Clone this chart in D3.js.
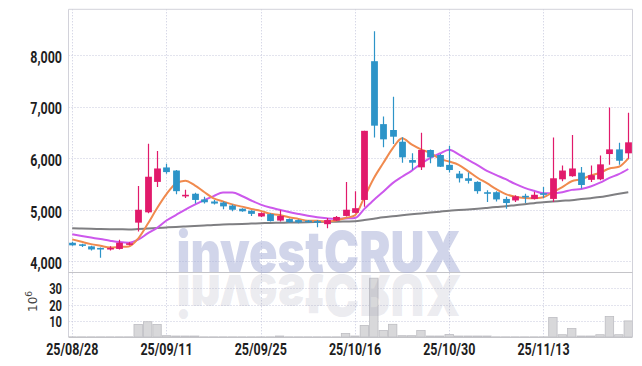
<!DOCTYPE html>
<html><head><meta charset="utf-8">
<script src="https://cdn.jsdelivr.net/npm/d3@7"></script>
<style>body{margin:0;background:#fff}svg{display:block}</style>
</head><body>
<script>
const dates = ["25/08/28","25/08/29","25/09/01","25/09/02","25/09/03","25/09/04","25/09/05","25/09/08","25/09/09","25/09/10",
"25/09/11","25/09/12","25/09/15","25/09/16","25/09/17","25/09/18","25/09/19","25/09/22","25/09/23","25/09/24",
"25/09/25","25/09/26","25/09/29","25/09/30","25/10/01","25/10/02","25/10/10","25/10/13","25/10/14","25/10/15",
"25/10/16","25/10/17","25/10/20","25/10/21","25/10/22","25/10/23","25/10/24","25/10/27","25/10/28","25/10/29",
"25/10/30","25/10/31","25/11/03","25/11/04","25/11/05","25/11/06","25/11/07","25/11/10","25/11/11","25/11/12",
"25/11/13","25/11/14","25/11/17","25/11/18","25/11/19","25/11/20","25/11/21","25/11/24","25/11/25","25/11/26"];
const open  = [4360,4330,4290,4260,4240,4240,4320,4750,4950,5540,5820,5760,5260,5310,5200,5160,5140,5080,5020,4980,
4870,4915,4790,4820,4800,4790,4780,4720,4790,4880,4940,5190,7880,6660,6546,6319,5964,5822,6158,6061,
5870,5700,5610,5540,5340,5340,5210,5180,5270,5210,5320,5210,5590,5650,5720,5580,5590,6080,6170,6094];
const high  = [4380,4340,4300,4270,4290,4420,4370,5460,6280,6140,5890,5770,5390,5330,5250,5190,5160,5100,5030,4990,
4950,4930,4990,4830,4810,4800,4800,4840,4880,5540,5360,6530,8460,6810,7190,6404,6094,6493,6170,6080,
6240,5750,5720,5550,5380,5360,5250,5280,5310,5350,5440,6400,5860,6450,5830,5860,6050,6980,6300,6880];
const low   = [4300,4280,4210,4070,4210,4230,4310,4580,4930,5440,5700,5300,5230,5120,5120,5100,5010,4970,4960,4880,
4860,4770,4770,4750,4740,4750,4660,4640,4780,4870,4930,5060,6400,6210,6274,5912,5770,5770,5900,5830,
5720,5530,5510,5310,5150,5160,5020,5150,5130,5200,5230,5150,5550,5640,5410,5540,5570,5870,5870,5990];
const close = [4310,4300,4230,4240,4260,4360,4350,5000,5640,5800,5730,5360,5290,5190,5145,5120,5065,5000,4970,4920,
4935,4780,4880,4760,4755,4765,4770,4800,4860,5000,5030,6530,6630,6365,6416,6016,5912,6158,6016,5834,
5770,5610,5560,5360,5310,5200,5130,5260,5240,5290,5300,5610,5760,5800,5480,5670,5880,6170,5950,6307];
const ma5   = [4425,4378,4333,4300,4268,4278,4288,4442,4722,5030,5304,5506,5564,5474,5343,5221,5162,5104,5060,5015,
4978,4921,4897,4855,4822,4788,4786,4770,4790,4839,4892,5244,5610,5905,6190,6386,6268,6172,6100,5987,
5934,5870,5750,5620,5514,5400,5304,5250,5228,5224,5244,5340,5440,5552,5590,5664,5718,5800,5834,5997];
const ma10  = [4523,4490,4460,4431,4400,4373,4360,4420,4540,4649,4791,4897,5003,5098,5187,5263,5334,5334,5267,5179,
5100,5042,5001,4958,4919,4883,4854,4834,4823,4831,4840,5017,5190,5348,5516,5640,5754,5890,6005,6090,
6165,6073,5965,5865,5753,5671,5592,5500,5424,5368,5320,5320,5340,5385,5402,5450,5524,5617,5690,5790];
const maLong= [4641,4636,4632,4627,4624,4621,4618,4626,4637,4647,4657,4666,4676,4686,4696,4706,4712,4719,4725,4732,
4738,4745,4748,4752,4755,4758,4762,4765,4768,4772,4775,4801,4827,4853,4873,4892,4912,4929,4946,4963,
4980,4993,5007,5020,5036,5053,5069,5089,5108,5128,5147,5160,5173,5186,5206,5225,5245,5276,5308,5339];
const volume= [0.1,0.1,0.1,0.1,0.1,0.1,0.1,7.7,9.4,7.7,0.8,0.6,0.6,0.6,0.1,0.1,0.1,0.1,0.1,0.1,
0.1,0.1,0.6,0.1,0.1,0.1,0.1,0.1,0.1,2.1,0.6,7.1,36.2,4.0,7.8,0.8,0.8,4.0,0.6,0.6,
1.6,0.6,0.6,0.6,0.6,0.1,0.1,0.1,0.1,0.1,0.1,12.0,1.4,5.2,0.6,0.6,1.4,12.6,1.4,9.9];
const priceTicks = [4000,5000,6000,7000,8000];
const volTicks = [10,20,30];
const dateTickLabels = ["25/08/28","25/09/11","25/09/25","25/10/16","25/10/30","25/11/13"];

const W=642,H=366, L=68.5, R=632.5, T=9.3, PB=272, VB=337;
const svg = d3.select("body").append("svg").attr("width",W).attr("height",H);
const x = d3.scaleBand().domain(dates).range([67.5,633]).padding(0);
const cx = d => x(d)+x.bandwidth()/2;
const y = d3.scaleLinear().domain([3793,8886]).range([PB,T]);
const vy = d3.scaleLinear().domain([0,40]).range([VB,PB]);
const fmt = d3.format(",");

svg.append("defs").append("clipPath").attr("id","plot").append("rect")
  .attr("x",L).attr("y",T).attr("width",R-L).attr("height",VB-T);

const grid = svg.append("g").attr("stroke","#c6c8dd").attr("stroke-width",1).attr("stroke-dasharray","1,2");
grid.selectAll(".hp").data(priceTicks).join("line")
  .attr("x1",L).attr("x2",R).attr("y1",d=>Math.round(y(d))+0.5).attr("y2",d=>Math.round(y(d))+0.5);
grid.selectAll(".hv").data(volTicks).join("line").attr("class","hv")
  .attr("x1",L).attr("x2",R).attr("y1",d=>Math.round(vy(d))+0.5).attr("y2",d=>Math.round(vy(d))+0.5);
grid.selectAll(".vv").data(dateTickLabels).join("line").attr("class","vv")
  .attr("x1",d=>Math.round(cx(d))+0.5).attr("x2",d=>Math.round(cx(d))+0.5).attr("y1",T).attr("y2",VB);

const fr = svg.append("g").attr("stroke","#d2d2da").attr("stroke-width",1).attr("fill","none");
fr.append("line").attr("x1",L).attr("x2",L).attr("y1",T).attr("y2",VB);
fr.append("line").attr("x1",R).attr("x2",R).attr("y1",T).attr("y2",VB);
fr.append("line").attr("x1",L).attr("x2",R).attr("y1",T).attr("y2",T);
fr.append("line").attr("x1",L).attr("x2",R).attr("y1",PB+0.5).attr("y2",PB+0.5).attr("stroke","#c4c4c8");
fr.append("line").attr("x1",L).attr("x2",R).attr("y1",VB+0.5).attr("y2",VB+0.5).attr("stroke","#c4c4c8");

const plot = svg.append("g").attr("clip-path","url(#plot)");
plot.selectAll(".vol").data(dates).join("rect")
  .attr("x",d=>x(d)+0.5).attr("width",x.bandwidth()-1)
  .attr("y",(d,i)=>vy(volume[i])).attr("height",(d,i)=>VB-vy(volume[i]))
  .attr("fill","#d8d8da").attr("stroke","#bdbdc2").attr("stroke-width",0.8);

const line = arr => d3.line().x((d,i)=>cx(dates[i])).y(d=>y(d)).curve(d3.curveMonotoneX)(arr);
plot.append("path").attr("d",line(maLong)).attr("fill","none").attr("stroke","#7f7f82").attr("stroke-width",2);
plot.append("path").attr("d",line(ma10)).attr("fill","none").attr("stroke","#cc58ec").attr("stroke-width",2);
plot.append("path").attr("d",line(ma5)).attr("fill","none").attr("stroke","#f08a4e").attr("stroke-width",2);

const RED="#e11a6b", BLUE="#2d94c8";
const bw = x.bandwidth()*0.72;
const c = plot.selectAll(".c").data(dates).join("g");
c.append("line").attr("x1",d=>Math.round(cx(d))+0.5).attr("x2",d=>Math.round(cx(d))+0.5)
  .attr("y1",(d,i)=>y(high[i])).attr("y2",(d,i)=>y(low[i]))
  .attr("stroke",(d,i)=>close[i]>=open[i]?RED:BLUE).attr("stroke-width",1.2);
c.append("rect").attr("x",d=>Math.round(cx(d))+0.5-bw/2).attr("width",bw)
  .attr("y",(d,i)=>y(Math.max(open[i],close[i])))
  .attr("height",(d,i)=>Math.max(1.6,Math.abs(y(open[i])-y(close[i]))))
  .attr("fill",(d,i)=>close[i]>=open[i]?RED:BLUE);

// watermark with reflection
const wm = svg.append("g").attr("font-family","Inter,'Liberation Sans',Arial,sans-serif").attr("font-weight","900")
  .attr("font-size",56).attr("text-anchor","middle");
wm.append("text").attr("x",319).attr("y",272).attr("textLength",285).attr("lengthAdjust","spacingAndGlyphs")
  .attr("fill","#a3acd6").attr("fill-opacity",0.5).text("investCRUX");
wm.append("text").attr("x",319).attr("y",272).attr("textLength",285).attr("lengthAdjust","spacingAndGlyphs")
  .attr("transform","translate(0,547) scale(1,-1)")
  .attr("fill","#9a9ab0").attr("fill-opacity",0.2).text("investCRUX");

const lab = svg.append("g").attr("font-family","Roboto,'Noto Sans',sans-serif").attr("font-weight","700").attr("fill","#1e1e1e");
priceTicks.forEach(v=>{
  lab.append("g").attr("transform",`translate(62,${y(v)+2}) scale(0.78,1)`)
    .append("text").attr("text-anchor","end").attr("dy","0.36em").attr("font-size",16).text(fmt(v));
});
volTicks.forEach(v=>{
  lab.append("g").attr("transform",`translate(62,${vy(v)+1}) scale(0.8,1)`)
    .append("text").attr("text-anchor","end").attr("dy","0.36em").attr("font-size",14).text(v);
});
dateTickLabels.forEach(d=>{
  lab.append("g").attr("transform",`translate(${cx(d)},355) scale(0.78,1)`)
    .append("text").attr("text-anchor","middle").attr("font-size",16).text(d);
});
const unit = svg.append("text").attr("transform","translate(37,312) rotate(-90)")
  .attr("font-family","'DejaVu Sans',sans-serif").attr("font-size",12).attr("fill","#444");
unit.append("tspan").text("10");
unit.append("tspan").attr("dy",-5).attr("font-size",9).text("6");
</script>
</body></html>
